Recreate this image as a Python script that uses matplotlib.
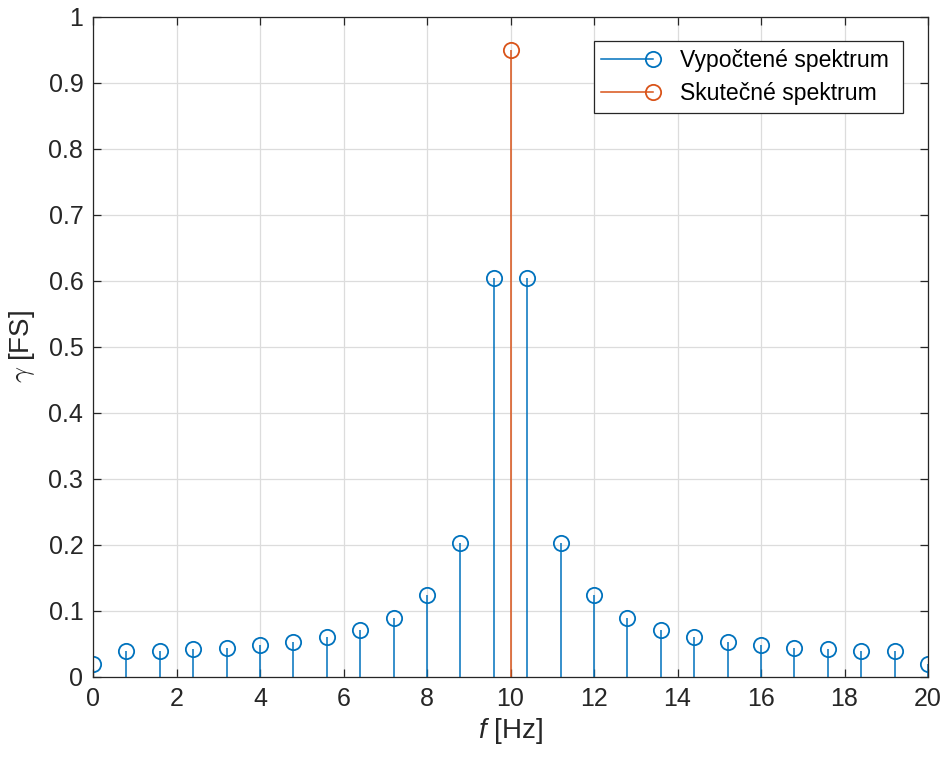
import matplotlib
matplotlib.use('Agg')
import matplotlib.pyplot as plt
from matplotlib.lines import Line2D
from matplotlib.legend_handler import HandlerBase
from matplotlib.ticker import FormatStrFormatter

plt.rcParams['font.family'] = ['Liberation Sans', 'DejaVu Sans']
plt.rcParams['mathtext.fontset'] = 'custom'
plt.rcParams['mathtext.it'] = 'Liberation Sans:italic'
plt.rcParams['mathtext.rm'] = 'Liberation Sans'

MODRA = '#0072BD'
ORANZ = '#D95319'
OSY = '#262626'

# vypoctene spektrum (DFT), krok 0.8 Hz
f_dft = [0, 0.8, 1.6, 2.4, 3.2, 4.0, 4.8, 5.6, 6.4, 7.2, 8.0, 8.8, 9.6,
         10.4, 11.2, 12.0, 12.8, 13.6, 14.4, 15.2, 16.0, 16.8, 17.6, 18.4, 19.2, 20.0]
g_dft = [0.020, 0.039, 0.040, 0.042, 0.044, 0.048, 0.053, 0.060, 0.071, 0.089, 0.124, 0.203, 0.605,
         0.605, 0.203, 0.124, 0.089, 0.071, 0.060, 0.053, 0.048, 0.044, 0.042, 0.040, 0.039, 0.020]

# skutecne spektrum
f_real = [10]
g_real = [0.95]

x_ticks = list(range(0, 21, 2))
y_ticks = [0, 0.1, 0.2, 0.3, 0.4, 0.5, 0.6, 0.7, 0.8, 0.9, 1]

MS = 11
LW = 1.1
MEW = 1.3


class HandlerStem(HandlerBase):
    # cara s koleckem na pravem konci jako v MATLABu
    def create_artists(self, legend, orig_handle, xdescent, ydescent,
                       width, height, fontsize, trans):
        y = height / 2 - ydescent
        x0 = -xdescent
        x1 = -xdescent + width
        r = 8
        line = Line2D([x0, x1 - r], [y, y], color=orig_handle.get_color(),
                      linewidth=LW, transform=trans)
        mark = Line2D([x1 - r], [y], marker='o', markersize=MS, linestyle='none',
                      markerfacecolor='none', markeredgecolor=orig_handle.get_color(),
                      markeredgewidth=MEW, transform=trans)
        return [line, mark]


fig = plt.figure(figsize=(9.44, 7.58), dpi=100)
ax = fig.add_axes([93 / 944, 1 - 677 / 758, 835 / 944, 660 / 758])

for f, g, c in [(f_dft, g_dft, MODRA), (f_real, g_real, ORANZ)]:
    ml, sl, bl = ax.stem(f, g, basefmt=' ')
    plt.setp(sl, color=c, linewidth=LW)
    plt.setp(ml, marker='o', markersize=MS, markerfacecolor='none',
             markeredgecolor=c, markeredgewidth=MEW)

ax.set_xlim(0, 20)
ax.set_ylim(0, 1)
ax.set_xticks(x_ticks)
ax.set_yticks(y_ticks)
ax.yaxis.set_major_formatter(FormatStrFormatter('%g'))
ax.grid(True, color='#dcdcdc', linewidth=0.9)
ax.set_axisbelow(True)
ax.tick_params(direction='in', length=6, width=0.9, colors=OSY, labelsize=18,
               top=True, right=True, pad=7)
for s in ax.spines.values():
    s.set_color(OSY)
    s.set_linewidth(0.9)

ax.set_xlabel('$f$ [Hz]', fontsize=20, color=OSY, labelpad=4)
ax.set_ylabel(r'$\gamma$ [FS]', fontsize=20, color=OSY, labelpad=8,
              math_fontfamily='cm')

h1 = Line2D([], [], color=MODRA)
h2 = Line2D([], [], color=ORANZ)
leg = ax.legend([h1, h2], ['Vypočtené spektrum ', 'Skutečné spektrum '],
                loc='upper right', bbox_to_anchor=(0.970, 0.963), borderaxespad=0,
                fontsize=16.6, handlelength=2.7, handletextpad=0.7,
                labelspacing=0.41, borderpad=0.34, fancybox=False, framealpha=1,
                edgecolor=OSY, handler_map={Line2D: HandlerStem()})
leg.get_frame().set_linewidth(0.9)

fig.savefig('out.png', dpi=100)
